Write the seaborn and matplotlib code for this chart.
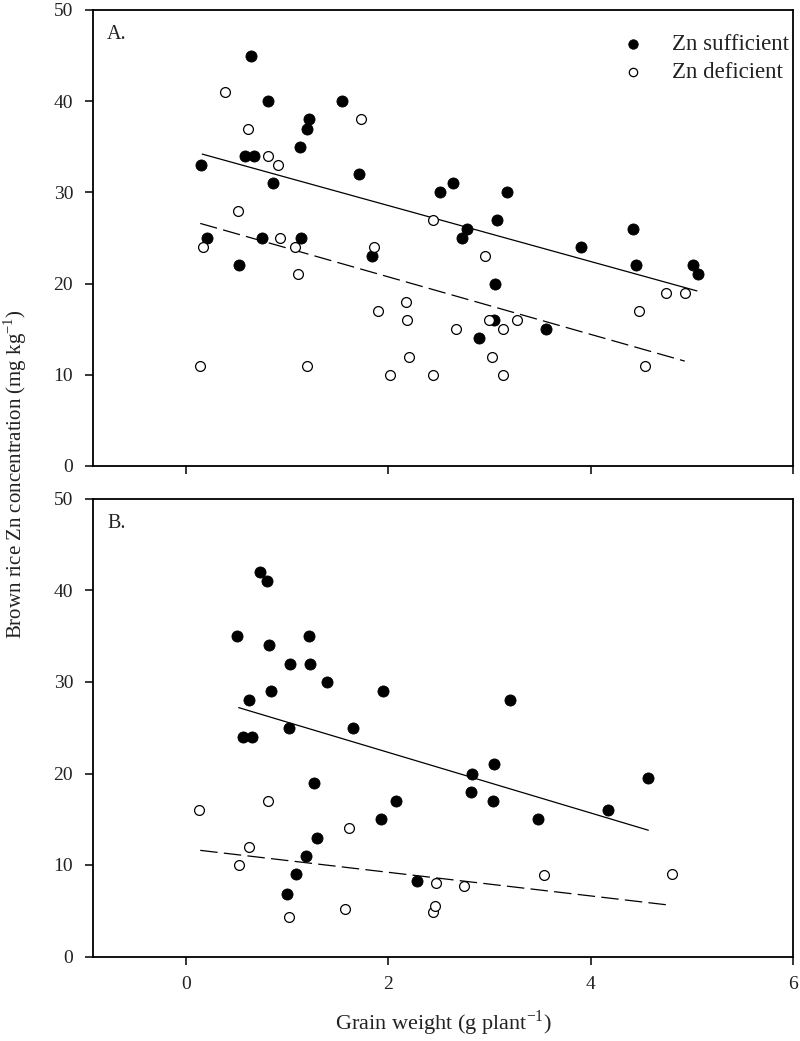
import numpy as np
import pandas as pd
import matplotlib
matplotlib.use('Agg')
import matplotlib.pyplot as plt
import seaborn as sns

# panel A: Zn sufficient (filled) / Zn deficient (open)
a_suf_x = [0.145, 0.21, 0.52, 0.58, 0.64, 0.67, 0.75, 0.81, 0.86, 1.13, 1.14, 1.20, 1.22, 1.54,
           1.71, 1.84, 2.51, 2.64, 2.73, 2.78, 2.90, 3.04, 3.05, 3.07, 3.17, 3.56, 3.90, 4.42,
           4.45, 5.01, 5.06]
a_suf_y = [33, 25, 22, 34, 45, 34, 25, 40, 31, 35, 25, 37, 38, 40,
           32, 23, 30, 31, 25, 26, 14, 16, 20, 27, 30, 15, 24, 26,
           22, 22, 21]
a_def_x = [0.14, 0.17, 0.38, 0.51, 0.61, 0.81, 0.91, 0.93, 1.08, 1.11, 1.20, 1.73, 1.86, 1.90,
           2.02, 2.17, 2.18, 2.20, 2.44, 2.44, 2.67, 2.96, 2.99, 3.02, 3.13, 3.13, 3.27, 4.48,
           4.54, 4.74, 4.93]
a_def_y = [11, 24, 41, 28, 37, 34, 33, 25, 24, 21, 11, 38, 24, 17,
           10, 18, 16, 12, 27, 10, 15, 23, 16, 12, 15, 10, 16, 17,
           11, 19, 19]

# panel B
b_suf_x = [0.50, 0.56, 0.62, 0.65, 0.73, 0.80, 0.82, 0.84, 1.00, 1.02, 1.03, 1.09, 1.19, 1.22,
           1.23, 1.26, 1.29, 1.39, 1.65, 1.93, 1.95, 2.08, 2.28, 2.82, 2.83, 3.03, 3.04, 3.20,
           3.48, 4.17, 4.57]
b_suf_y = [35, 24, 28, 24, 42, 41, 34, 29, 6.8, 25, 32, 9, 11, 35,
           32, 19, 13, 30, 25, 15, 29, 17, 8.3, 18, 20, 17, 21, 28,
           15, 16, 19.5]
b_def_x = [0.13, 0.52, 0.62, 0.81, 1.02, 1.57, 1.61, 2.44, 2.46, 2.47, 2.75, 3.54, 4.80]
b_def_y = [16, 10, 12, 17, 4.3, 5.2, 14, 4.9, 5.5, 8, 7.7, 8.9, 9]

# fitted lines (end points)
a_suf_fit_x, a_suf_fit_y = [0.16, 5.05], [34.2, 19.2]
a_def_fit_x, a_def_fit_y = [0.14, 4.93], [26.6, 11.5]
b_suf_fit_x, b_suf_fit_y = [0.52, 4.57], [27.2, 13.8]
b_def_fit_x, b_def_fit_y = [0.14, 4.79], [11.6, 5.6]

yticks = [0, 10, 20, 30, 40, 50]
xticks = [0, 2, 4, 6]

sns.set_theme(style='ticks')
plt.rcParams['font.family'] = ['Liberation Serif', 'DejaVu Serif']
plt.rcParams['mathtext.fontset'] = 'custom'
plt.rcParams['mathtext.rm'] = 'Liberation Serif'
plt.rcParams['axes.linewidth'] = 1.3

W, H = 800, 1041
fig = plt.figure(figsize=(W / 100, H / 100), dpi=100)
ax_a = fig.add_axes([93 / W, 1 - 466 / H, 700 / W, 456 / H])
ax_b = fig.add_axes([93 / W, 1 - 956.5 / H, 700 / W, 457.5 / H])

panels = [
    (ax_a, a_suf_x, a_suf_y, a_def_x, a_def_y, a_suf_fit_x, a_suf_fit_y, a_def_fit_x, a_def_fit_y, 'A.'),
    (ax_b, b_suf_x, b_suf_y, b_def_x, b_def_y, b_suf_fit_x, b_suf_fit_y, b_def_fit_x, b_def_fit_y, 'B.'),
]

for (ax, sx, sy, dx, dy, fsx, fsy, fdx, fdy, tag) in panels:
    sns.lineplot(x=fsx, y=fsy, ax=ax, color='black', lw=0.9, legend=False)
    dl = sns.lineplot(x=fdx, y=fdy, ax=ax, color='black', lw=0.9, legend=False)
    dl.lines[-1].set_dashes((14, 5))
    sns.scatterplot(x=sx, y=sy, ax=ax, color='black', edgecolor='black', s=64, linewidth=0.6,
                    label='Zn sufficient', zorder=3)
    sns.scatterplot(x=dx, y=dy, ax=ax, color='white', edgecolor='black', s=50, linewidth=0.9,
                    label='Zn deficient', zorder=3)
    ax.set_xlim(-0.92, 6)
    ax.set_ylim(0, 50)
    ax.set_yticks(yticks)
    ax.set_xticks(xticks)
    ax.tick_params(direction='out', length=5.8, width=1.1, labelsize=14, pad=8.5,
                   top=False, right=False, color='black', labelcolor='#222222')
    for sp in ax.spines.values():
        sp.set_visible(True)
        sp.set_color('black')
    ax.set_xlabel('')
    ax.set_ylabel('')
    ax.text(0.02, 0.946, tag, transform=ax.transAxes, fontsize=14.5, color='#222222',
            ha='left', va='center')

ax_a.tick_params(labelbottom=False)
ax_b.get_legend().remove()

ax_a.legend(loc='upper left', bbox_to_anchor=(0.722, 0.972), frameon=False, fontsize=16.5,
            handletextpad=0.7, labelspacing=0.3, borderpad=0, handlelength=2.0,
            markerscale=0.85, labelcolor='#222222')

ax_b.set_xlabel('Grain weight (g plant$^{\\mathrm{-1}}$)', fontsize=16, color='#222222', labelpad=11)
fig.text(15 / W, 1 - 474 / H, 'Brown rice Zn concentration (mg kg$^{\\mathrm{-1}}$)',
         rotation=90, ha='center', va='center', fontsize=15, color='#222222')

fig.savefig('out.png', dpi=100)
